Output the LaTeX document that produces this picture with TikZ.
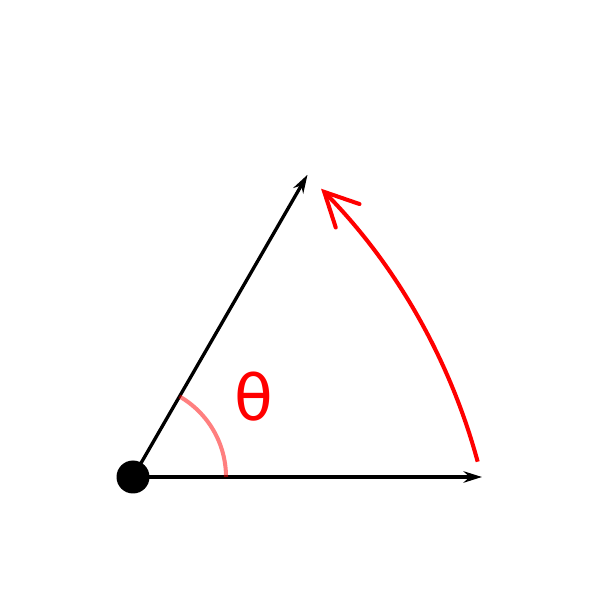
\documentclass[tikz,border=0pt]{standalone}
\usepackage{fontspec}
\newfontfamily\dejavu{DejaVu Sans}
\usetikzlibrary{arrows.meta,calc}
\begin{document}
\begin{tikzpicture}[
  vec/.style={line width=1.9pt,-{Stealth[length=10.5pt,width=6.5pt]}},
  rot/.style={red,line width=2.3pt,-{Straight Barb[length=19pt,width=19pt,line cap=round]}},
  anglearc/.style={red,opacity=0.5,line width=2.3pt},
  dot/.style={circle,fill=black,inner sep=0pt,minimum size=0.66cm}
]
\useasboundingbox (0,0) rectangle (12,12);
\coordinate (O) at (2.66,2.46);
\coordinate (C) at (-2.448,-0.49);
\node[dot] (Od) at (O) {};
\coordinate (X) at ($(O)+(0:6.98)$);
\coordinate (Y) at ($(O)+(60:6.98)$);
\draw[vec] (O) -- (X);
\draw[vec] (O) -- (Y);
\draw[anglearc] ($(O)+(0:1.86)$) arc[start angle=0,end angle=60,radius=1.86];
\draw[rot] ($(C)+(15.18:12.436)$) arc[start angle=15.18,end angle=44.5,radius=12.436];
\node[red,font=\dejavu\fontsize{36}{40}\selectfont] (th) at (5.08,4.06) {θ};
\end{tikzpicture}
\end{document}
